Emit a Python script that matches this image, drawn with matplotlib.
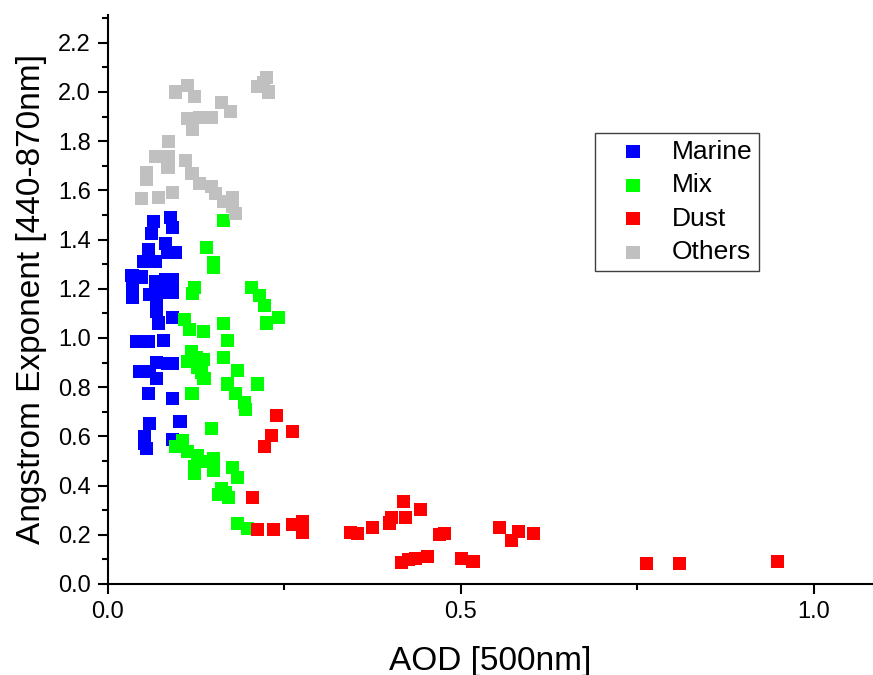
import matplotlib
matplotlib.use("Agg")
import matplotlib.pyplot as plt
from matplotlib.ticker import MultipleLocator

plt.rcParams['font.family'] = ['Liberation Sans', 'DejaVu Sans']

# AOD (500nm) e expoente de Angstrom por tipo de aerossol
marine_aod = [0.064, 0.088, 0.091, 0.062, 0.081, 0.057, 0.084, 0.095, 0.050, 0.067,
              0.034, 0.048, 0.067, 0.081, 0.092, 0.035, 0.059, 0.074, 0.092, 0.035,
              0.069, 0.069, 0.092, 0.071, 0.040, 0.058, 0.078, 0.069, 0.084, 0.092,
              0.044, 0.059, 0.069, 0.058, 0.092, 0.059, 0.102, 0.052, 0.052, 0.055,
              0.092]
marine_ae = [1.472, 1.488, 1.451, 1.423, 1.386, 1.358, 1.346, 1.346, 1.309, 1.309,
             1.256, 1.248, 1.228, 1.236, 1.236, 1.207, 1.175, 1.183, 1.183, 1.163,
             1.134, 1.106, 1.085, 1.061, 0.984, 0.984, 0.988, 0.902, 0.898, 0.898,
             0.862, 0.862, 0.837, 0.776, 0.756, 0.654, 0.659, 0.598, 0.573, 0.549,
             0.589]

mix_aod = [0.164, 0.140, 0.150, 0.149, 0.122, 0.120, 0.203, 0.215, 0.221, 0.242,
           0.224, 0.108, 0.116, 0.135, 0.164, 0.169, 0.118, 0.112, 0.126, 0.135,
           0.127, 0.133, 0.136, 0.163, 0.183, 0.169, 0.212, 0.119, 0.181, 0.194,
           0.195, 0.147, 0.106, 0.095, 0.113, 0.127, 0.123, 0.123, 0.149, 0.150,
           0.137, 0.177, 0.184, 0.161, 0.156, 0.171, 0.167, 0.184, 0.197]
mix_ae = [1.476, 1.366, 1.305, 1.285, 1.207, 1.179, 1.207, 1.171, 1.134, 1.085,
          1.061, 1.077, 1.033, 1.028, 1.057, 0.988, 0.947, 0.906, 0.919, 0.911,
          0.882, 0.858, 0.837, 0.919, 0.866, 0.813, 0.813, 0.776, 0.776, 0.736,
          0.711, 0.634, 0.585, 0.557, 0.537, 0.524, 0.476, 0.451, 0.512, 0.463,
          0.496, 0.472, 0.431, 0.390, 0.362, 0.350, 0.370, 0.244, 0.224]

dust_aod = [0.239, 0.262, 0.232, 0.222, 0.205, 0.212, 0.235, 0.262, 0.275, 0.275,
            0.343, 0.353, 0.375, 0.399, 0.401, 0.418, 0.421, 0.442, 0.470, 0.477,
            0.554, 0.582, 0.572, 0.603, 0.416, 0.425, 0.436, 0.452, 0.501, 0.517,
            0.763, 0.809, 0.948]
dust_ae = [0.683, 0.618, 0.602, 0.557, 0.350, 0.220, 0.220, 0.240, 0.252, 0.211,
           0.211, 0.207, 0.228, 0.248, 0.272, 0.337, 0.272, 0.301, 0.203, 0.207,
           0.228, 0.215, 0.175, 0.207, 0.089, 0.098, 0.102, 0.110, 0.102, 0.093,
           0.085, 0.085, 0.093]

others_aod = [0.112, 0.096, 0.122, 0.161, 0.173, 0.113, 0.147, 0.130, 0.120, 0.086,
              0.067, 0.085, 0.085, 0.110, 0.055, 0.055, 0.119, 0.129, 0.147, 0.152,
              0.163, 0.176, 0.176, 0.180, 0.048, 0.071, 0.092, 0.225, 0.212, 0.227,
              0.220]
others_ae = [2.028, 2.000, 1.980, 1.959, 1.919, 1.894, 1.898, 1.898, 1.846, 1.797,
             1.736, 1.736, 1.695, 1.720, 1.671, 1.646, 1.667, 1.630, 1.614, 1.589,
             1.553, 1.573, 1.533, 1.508, 1.569, 1.573, 1.593, 2.057, 2.024, 2.000,
             2.037]

fig = plt.figure(figsize=(8.73, 6.75), dpi=100)
ax = fig.add_axes([108/873, 91/675, 765/873, 569/675])

ax.scatter(marine_aod, marine_ae, marker='s', s=88, color='#0000FF', edgecolors='none', label='Marine')
ax.scatter(mix_aod, mix_ae, marker='s', s=88, color='#00FF00', edgecolors='none', label='Mix')
ax.scatter(dust_aod, dust_ae, marker='s', s=88, color='#FF0000', edgecolors='none', label='Dust')
ax.scatter(others_aod, others_ae, marker='s', s=88, color='#C0C0C0', edgecolors='none', label='Others')

ax.set_xlim(0, 1.0836)
ax.set_ylim(0, 2.313)
ax.spines['top'].set_visible(False)
ax.spines['right'].set_visible(False)
for s in ['left', 'bottom']:
    ax.spines[s].set_linewidth(1.5)

ax.xaxis.set_major_locator(MultipleLocator(0.5))
ax.xaxis.set_minor_locator(MultipleLocator(0.25))
ax.yaxis.set_major_locator(MultipleLocator(0.2))
ax.yaxis.set_minor_locator(MultipleLocator(0.1))
ax.xaxis.set_major_formatter(lambda v, p: f"{v:.1f}")
ax.yaxis.set_major_formatter(lambda v, p: f"{v:.1f}")
ax.tick_params(which='major', length=7.5, width=1.5, labelsize=17, pad=5)
ax.tick_params(which='minor', length=4.3, width=1.5)

ax.set_xlabel("AOD [500nm]", fontsize=24, labelpad=16)
ax.set_ylabel("Angstrom Exponent [440-870nm]", fontsize=24, labelpad=8)

leg = ax.legend(loc='upper left', bbox_to_anchor=(0.6366, 0.7926), borderaxespad=0,
                fontsize=19, scatterpoints=1, borderpad=0.25, handlelength=2.38,
                handletextpad=0.29, labelspacing=0.36, fancybox=False, framealpha=1)
leg.get_frame().set_edgecolor('#404040')
leg.get_frame().set_linewidth(1.0)

fig.savefig("out.png", dpi=100)
